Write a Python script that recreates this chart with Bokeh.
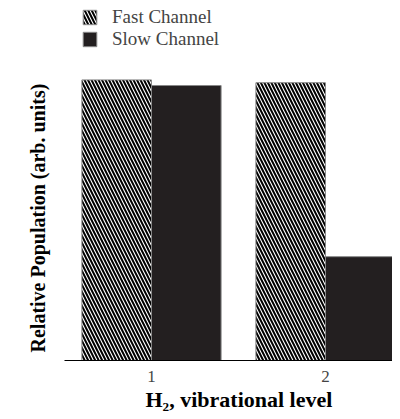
from bokeh.plotting import figure
from bokeh.models import Range1d, FixedTicker, ColumnDataSource, Legend, LegendItem, Title
from bokeh.transform import dodge
from bokeh.embed import file_html
from bokeh.resources import INLINE

levels = [1, 2]
tick_labels = ["1", "2"]
fast = [1.00, 0.99]
slow = [0.98, 0.37]

src = ColumnDataSource(dict(level=levels, fast=fast, slow=slow))

p = figure(width=392, height=411, output_backend="svg", toolbar_location=None,
           x_range=Range1d(0.5, 2.385), y_range=Range1d(0, 1.283),
           min_border_left=64, min_border_right=0, min_border_top=0, min_border_bottom=48)

r1 = p.vbar(x=dodge('level', -0.2, range=p.x_range), top='fast', width=0.4, source=src,
            fill_color="white", line_color="#888888", line_width=1,
            hatch_pattern="\\", hatch_color="black", hatch_scale=7, hatch_weight=2)
r2 = p.vbar(x=dodge('level', 0.2, range=p.x_range), top='slow', width=0.4, source=src,
            fill_color="#231f20", line_color="#888888", line_width=1)

legend = Legend(items=[LegendItem(label="Fast Channel", renderers=[r1]),
                       LegendItem(label="Slow Channel", renderers=[r2])],
                location=(17, 310), margin=0, padding=0, spacing=-5,
                glyph_width=17, glyph_height=18, label_height=18, label_standoff=14,
                label_text_font="Liberation Serif", label_text_font_size="19px",
                background_fill_alpha=0, border_line_color=None)
p.add_layout(legend, "center")

p.xgrid.visible = False
p.ygrid.visible = False
p.outline_line_color = None

xa = p.xaxis[0]
xa.ticker = FixedTicker(ticks=levels)
xa.major_label_overrides = {lv: lab for lv, lab in zip(levels, tick_labels)}
xa.major_tick_line_color = None
xa.minor_tick_line_color = None
xa.axis_line_color = "black"
xa.axis_line_width = 1
xa.major_label_text_font = "Liberation Serif"
xa.major_label_text_font_size = "17px"
xa.major_label_standoff = 4

ya = p.yaxis[0]
ya.ticker = FixedTicker(ticks=[])
ya.axis_line_color = None
ya.major_tick_line_color = None
ya.minor_tick_line_color = None

ylab = Title(text="Relative Population (arb. units)", align="left", offset=8,
             standoff=32, text_font="Liberation Serif", text_font_style="bold",
             text_font_size="20px", text_color="black")
p.add_layout(ylab, "left")

xlab = Title(text="H₂, vibrational level", align="left", offset=81,
             standoff=0, text_font="Liberation Serif", text_font_style="bold",
             text_font_size="22px", text_color="black")
p.add_layout(xlab, "below")

open("out.html", "w").write(file_html(p, INLINE))
